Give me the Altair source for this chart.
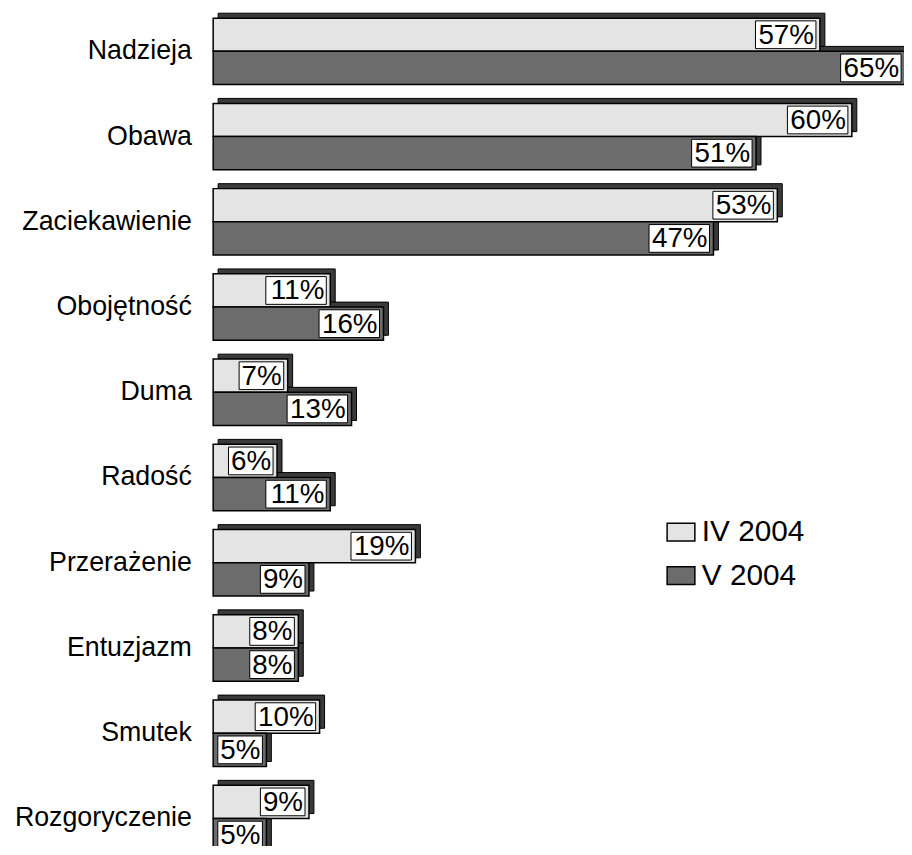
import altair as alt
import pandas as pd

categories = ["Nadzieja", "Obawa", "Zaciekawienie", "Obojętność", "Duma",
              "Radość", "Przerażenie", "Entuzjazm", "Smutek", "Rozgoryczenie"]
series_names = ["IV 2004", "V 2004"]
iv_2004 = [57, 60, 53, 11, 7, 6, 19, 8, 10, 9]
v_2004 = [65, 51, 47, 16, 13, 11, 9, 8, 5, 5]

rows = []
for c, a, b in zip(categories, iv_2004, v_2004):
    rows.append({"category": c, "series": series_names[0], "value": a, "label": f"{a}%"})
    rows.append({"category": c, "series": series_names[1], "value": b, "label": f"{b}%"})
df = pd.DataFrame(rows)

FONT = "Liberation Sans"
HALF = 16.75   # half of a group's band, i.e. one bar's height offset
BAR_H = 33.5
DEPTH = 5

y_enc = alt.Y(
    "category:N",
    sort=categories,
    scale=alt.Scale(range=[-3, 857], paddingInner=0.22, paddingOuter=0.11),
    axis=alt.Axis(title=None, ticks=False, domain=False, labelFontSize=27,
                  labelFont=FONT, labelColor="black", labelPadding=22, labelLimit=0),
)
x_scale = alt.Scale(domain=[0, 64.9], nice=False, zero=True)
x_enc = alt.X("value:Q", scale=x_scale, axis=None)
fill_enc = alt.Fill(
    "series:N",
    sort=series_names,
    scale=alt.Scale(domain=series_names, range=["#e4e4e4", "#6c6c6c"]),
    legend=alt.Legend(
        title=None, orient="none", legendX=457, legendY=510,
        labelFontSize=30, labelFont=FONT, labelColor="black",
        symbolType="M-1,-0.643L1,-0.643L1,0.643L-1,0.643Z",
        symbolSize=784, symbolStrokeColor="black", symbolStrokeWidth=1.5,
        labelOffset=6, rowPadding=14, padding=0,
    ),
)

base = alt.Chart(df).encode(y=y_enc)

shadows, fronts, boxes, texts = [], [], [], []
for s, sign in zip(series_names, [-1, 1]):
    b = base.transform_filter(alt.datum.series == s)
    off = sign * HALF
    shadows.append(
        b.mark_bar(color="#3a3a3a", stroke="black", strokeWidth=1, height=BAR_H,
                   yOffset=off - DEPTH, xOffset=DEPTH, x2Offset=DEPTH).encode(x=x_enc)
    )
    fronts.append(
        b.mark_bar(stroke="black", strokeWidth=1.5, height=BAR_H, yOffset=off).encode(
            x=x_enc, fill=fill_enc)
    )
    boxes.append(
        b.transform_filter("datum.value < 10").mark_bar(
            color="white", stroke="black", strokeWidth=1, height=28, yOffset=off,
            xOffset=-4, x2Offset=-49,
        ).encode(x=x_enc, x2="value:Q")
    )
    boxes.append(
        b.transform_filter("datum.value >= 10").mark_bar(
            color="white", stroke="black", strokeWidth=1, height=28, yOffset=off,
            xOffset=-4, x2Offset=-65,
        ).encode(x=x_enc, x2="value:Q")
    )
    texts.append(
        b.mark_text(align="right", baseline="middle", dx=-6, dy=off + 1,
                    fontSize=28, font=FONT, color="black").encode(
            x=x_enc, text="label:N")
    )

chart = alt.layer(*shadows, *fronts, *boxes, *texts).properties(
    width=697, height=838,
    autosize=alt.AutoSizeParams(type="none"),
    padding={"left": 207, "top": 0, "right": 0, "bottom": 0},
).configure_view(stroke=None)

chart.save("out.html", embed_options={"renderer": "svg", "actions": False})
